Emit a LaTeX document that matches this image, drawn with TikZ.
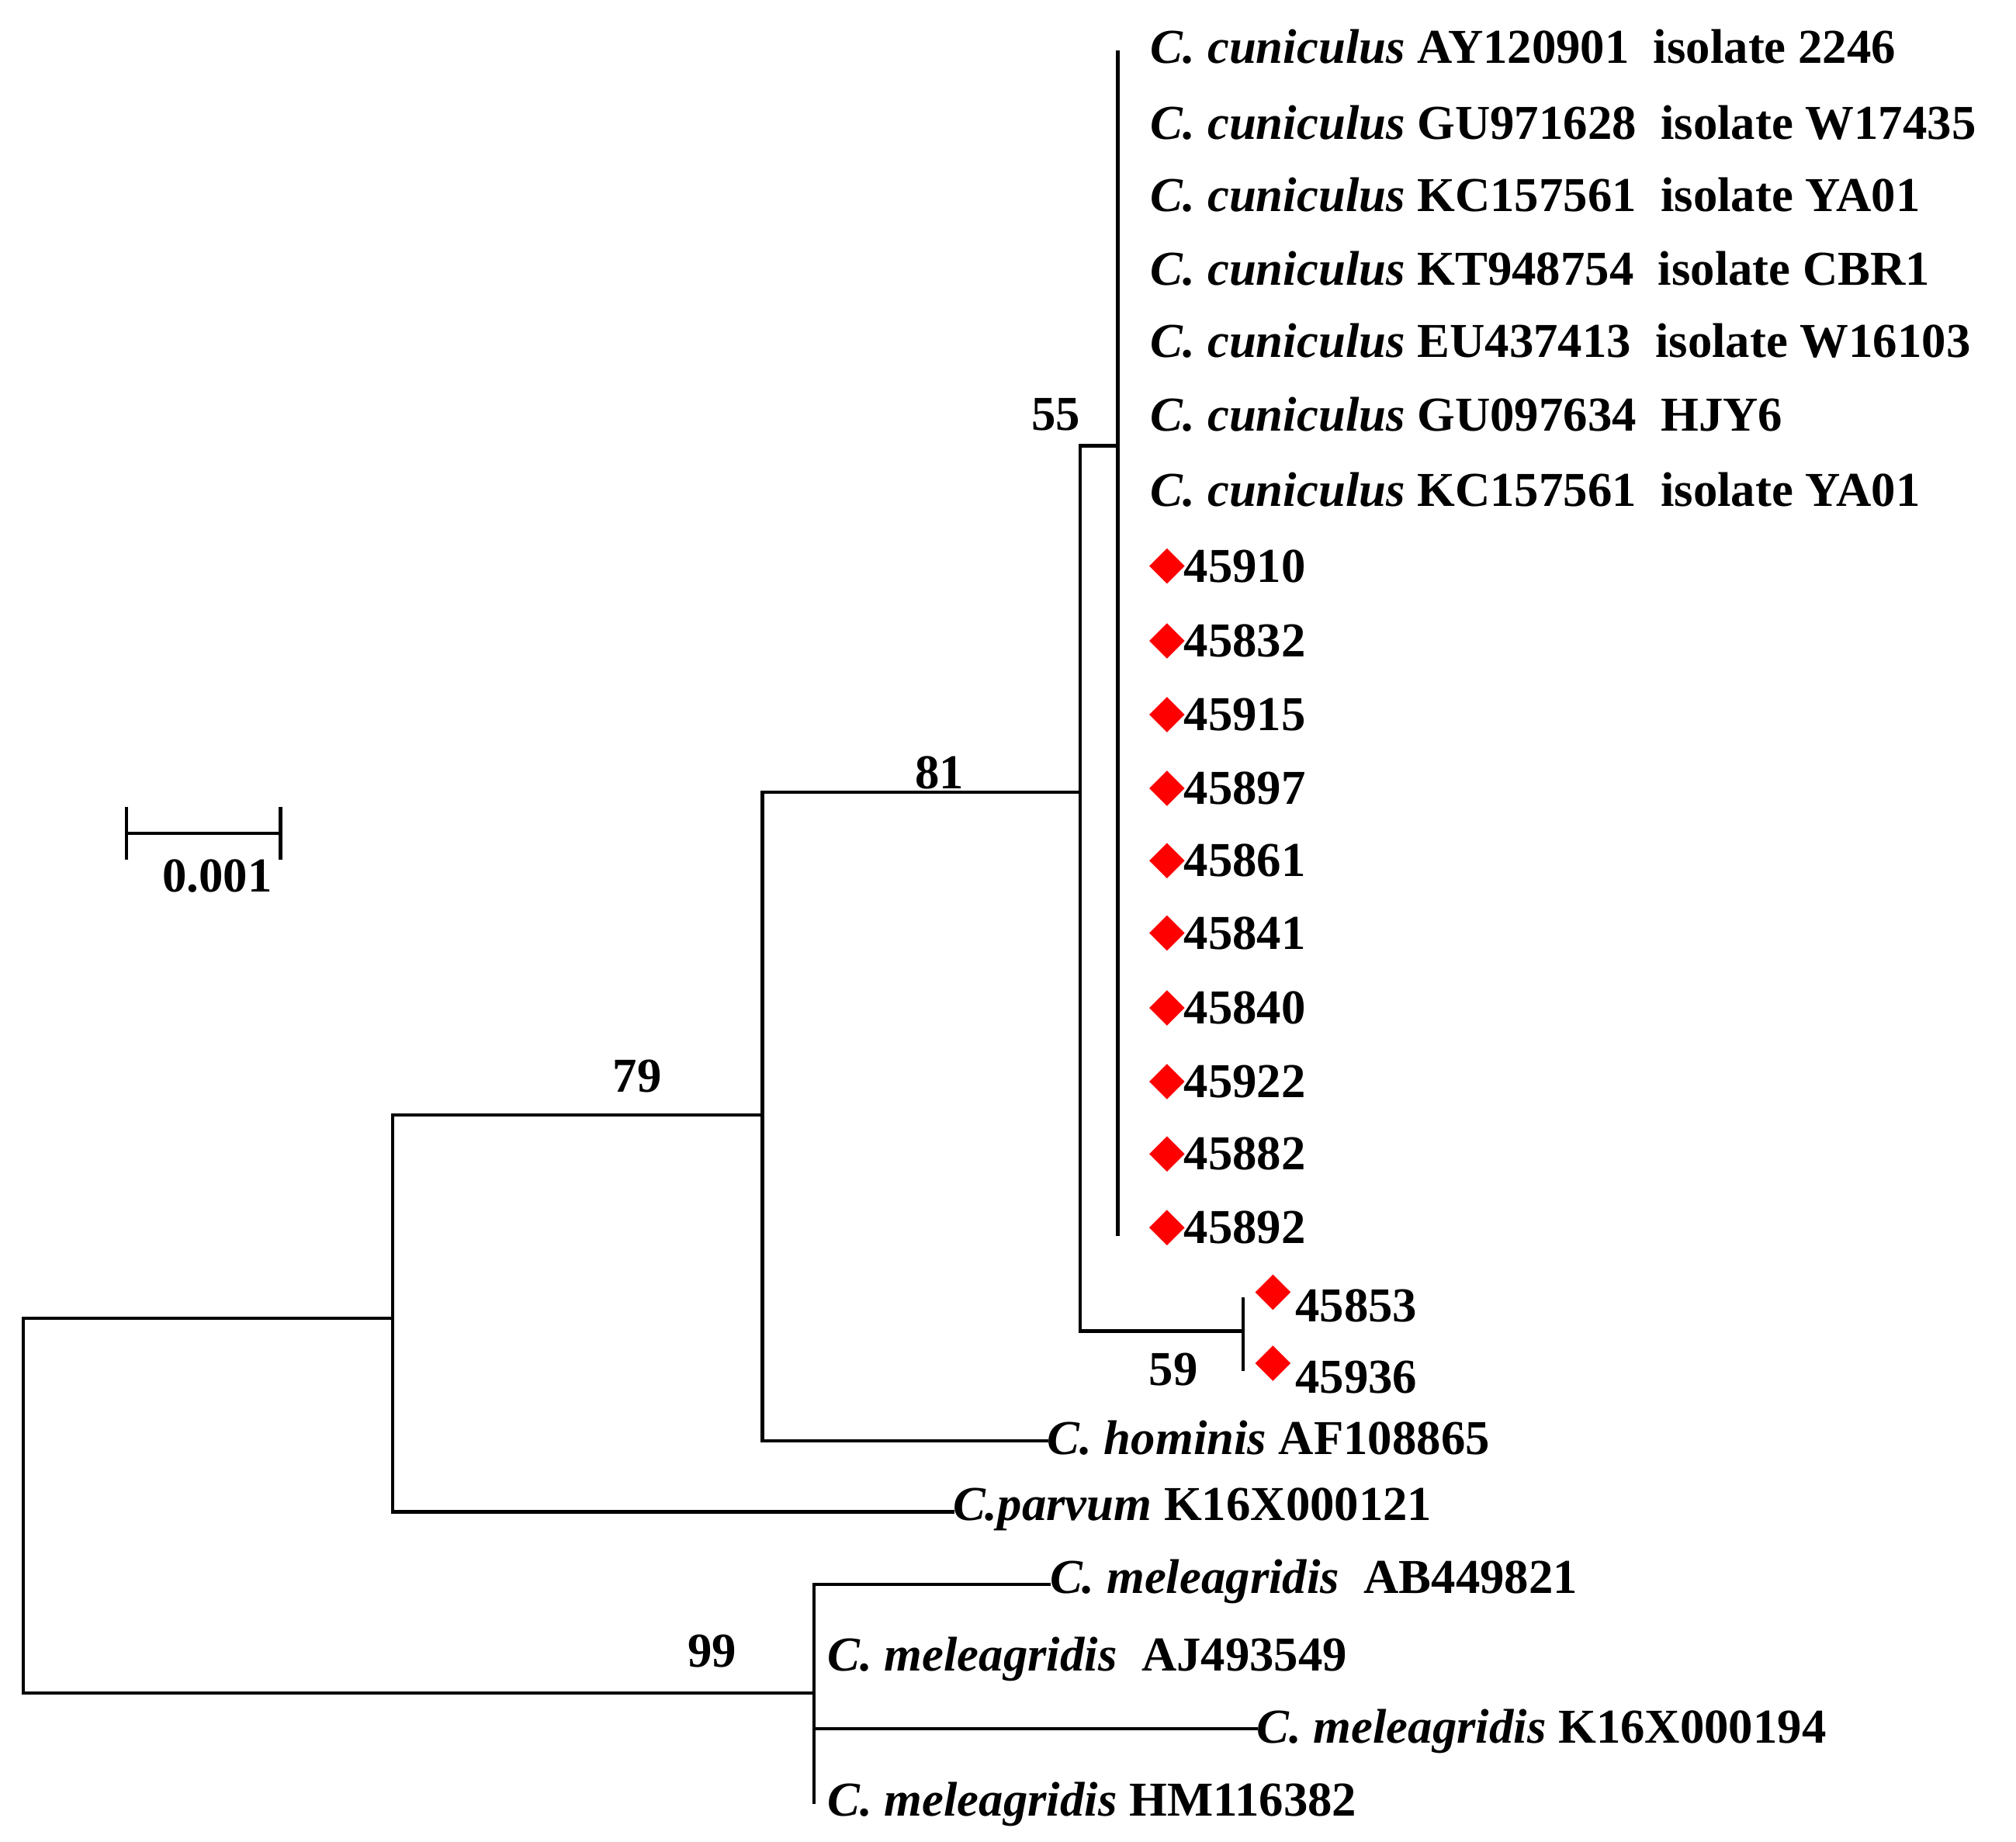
\documentclass[tikz,border=0pt]{standalone}
\usepackage{fontspec}
\setmainfont{Liberation Serif}
\usetikzlibrary{positioning,shapes.geometric}

\begin{document}
\begin{tikzpicture}[x=0.0166cm,y=-0.0166cm,
br/.style={line width=1.2pt,line cap=rect},
lf/.style={anchor=west,inner sep=0pt,font=\bfseries\fontsize{17.8}{18}\selectfont},
bs/.style={inner sep=0pt,font=\bfseries\fontsize{17.8}{18}\selectfont},
mk/.style={diamond,fill=red,inner sep=0pt,minimum size=0.46cm}]
\useasboundingbox (0,0) rectangle (1560,1425);

% tree coordinates
\coordinate (r) at (18,1020);
\coordinate (rl) at (18,1310);
\coordinate (a) at (304,1020);
\coordinate (at) at (304,863);
\coordinate (ab) at (304,1170);
\coordinate (b) at (590,863);
\coordinate (bt) at (590,613);
\coordinate (bb) at (590,1115);
\coordinate (c) at (836,613);
\coordinate (ct) at (836,345);
\coordinate (cb) at (836,1030);
\coordinate (d) at (865,345);
\coordinate (dt) at (865,40);
\coordinate (db) at (865,955);
\coordinate (e) at (962,1030);
\coordinate (et) at (962,1005);
\coordinate (eb) at (962,1060);
\coordinate (m) at (630,1310);
\coordinate (mt) at (630,1226);
\coordinate (mb) at (630,1395);
\coordinate (m3) at (630,1338);

% leaves
\foreach \id/\y/\acc/\iso in {1/36/AY120901/isolate 2246,2/95/GU971628/isolate W17435,
  3/151/KC157561/isolate YA01,4/208/KT948754/isolate CBR1,5/264/EU437413/isolate W16103,
  6/321/GU097634/HJY6,7/379/KC157561/isolate YA01}
  \node[lf] (cu\id) at (890,\y) {\textit{C. cuniculus} \acc\ \ \iso};
\foreach \id/\y in {45910/438,45832/496,45915/553,45897/610,45861/666,45841/722,45840/780,45922/837,45882/893,45892/950}{
  \node[mk] (k\id) at (903,\y) {};
  \node[lf,right=6pt of k\id.center] (s\id) {\id};
}
\foreach \id/\y in {45853/1000,45936/1055}{
  \node[mk] (k\id) at (985,\y) {};
  \node[lf,right=8pt of k\id.center,yshift=-5pt] (s\id) {\id};
}
\node[lf] (hom) at (810,1113) {\textit{C. hominis} AF108865};
\node[lf] (par) at (737,1168) {\textit{C.parvum} K16X000121};
\node[lf] (me1) at (812,1224) {\textit{C. meleagridis}\ \ AB449821};
\node[lf] (me2) at (640,1284) {\textit{C. meleagridis}\ \ AJ493549};
\node[lf] (me3) at (972,1340) {\textit{C. meleagridis} K16X000194};
\node[lf] (me4) at (640,1396) {\textit{C. meleagridis} HM116382};

% branches
\draw[br] (rl) -- (r) -- (a);
\draw[br] (at) -- (ab) -- (ab -| par.west);
\draw[br] (at) -- (b);
\draw[br] (bt) -- (bb) -- (bb -| hom.west);
\draw[br] (bt) -- (c);
\draw[br] (ct) -- (cb) -- (e);
\draw[br] (ct) -- (d);
\draw[br] (dt) -- (db);
\draw[br] (et) -- (eb);
\draw[br] (rl) -- (m);
\draw[br] (mt) -- (mb);
\draw[br] (mt) -- (mt -| me1.west);
\draw[br] (m3) -- (m3 -| me3.west);

% support values
\node[bs] (v55) at (817,321) {55};
\node[bs] (v81) at (727,598) {81};
\node[bs] (v79) at (493,833) {79};
\node[bs] (v59) at (908,1060) {59};
\node[bs] (v99) at (551,1278) {99};

% scale bar
\coordinate (s1) at (98,645);
\coordinate (s2) at (217,645);
\draw[br] (s1) -- (s2);
\draw[br] ([yshift=-9]s1) -- ([yshift=9]s1);
\draw[br] ([yshift=-9]s2) -- ([yshift=9]s2);
\node[bs] (sc) at (168,678) {0.001};
\end{tikzpicture}
\end{document}
